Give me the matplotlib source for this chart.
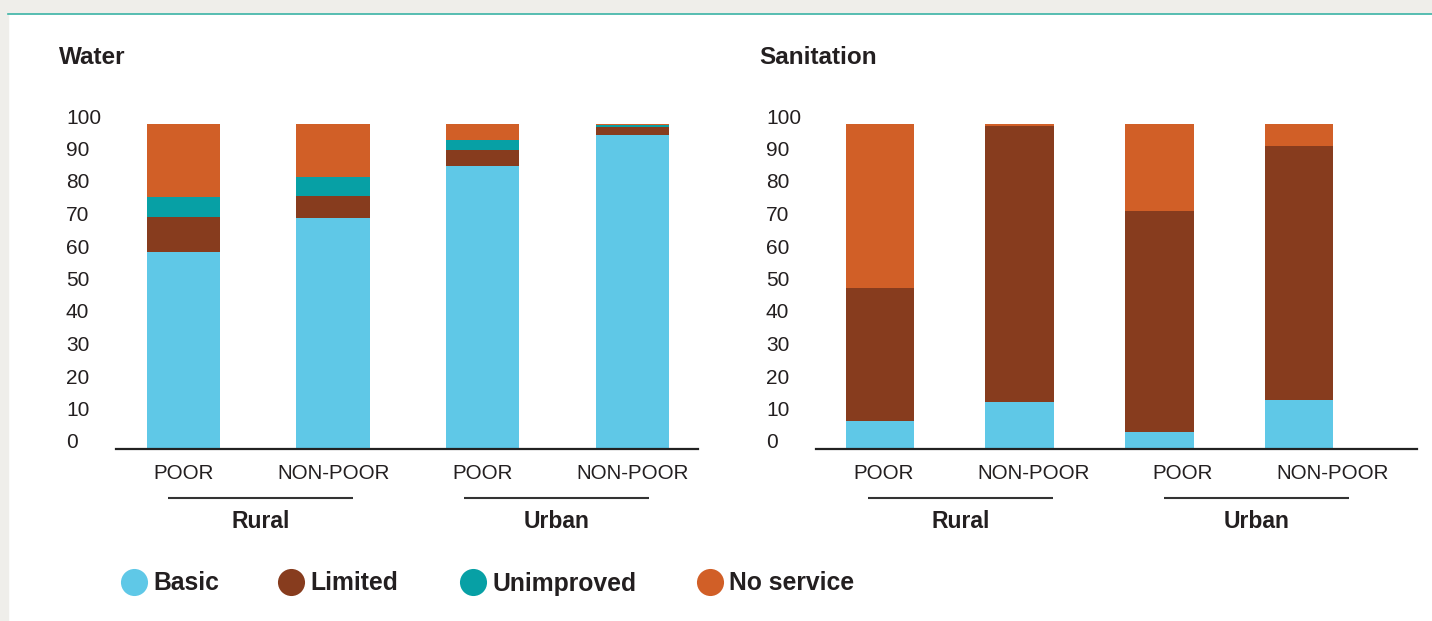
import matplotlib
matplotlib.use("Agg")
import matplotlib.pyplot as plt
from matplotlib.lines import Line2D
from matplotlib.patches import Rectangle
from matplotlib import transforms

plt.rcParams['font.family'] = ['Liberation Sans', 'DejaVu Sans']

# ---- data ----
categories = ["POOR", "NON-POOR", "POOR", "NON-POOR"]
groups = ["Rural", "Urban"]
series = ["Basic", "Limited", "Unimproved", "No service"]
colors = ["#5fc8e7", "#873c1e", "#07a0a5", "#d15f27"]

water_basic = [60.5, 71.0, 87.0, 96.6]
water_limited = [11.0, 6.7, 5.0, 2.6]
water_unimproved = [6.0, 6.0, 3.0, 0.4]
water_noservice = [22.5, 16.3, 5.0, 0.4]

san_basic = [8.6, 14.5, 5.2, 15.2]
san_limited = [41.0, 84.9, 68.0, 78.0]
san_unimproved = [0.0, 0.0, 0.0, 0.0]
san_noservice = [50.4, 0.6, 26.8, 6.8]

yticks = [0, 10, 20, 30, 40, 50, 60, 70, 80, 90, 100]

W, H = 1432, 621
fig = plt.figure(figsize=(W / 100, H / 100), dpi=100)
fig.patch.set_facecolor("white")
TXT = "#231f20"

# page background frame
fig.add_artist(Rectangle((0, 0), 8 / W, 1, transform=fig.transFigure, color="#efeeea", zorder=0))
fig.add_artist(Rectangle((0, 1 - 13 / H), 1, 13 / H, transform=fig.transFigure, color="#efeeea", zorder=0))
fig.add_artist(Line2D([8 / W, 1], [1 - 13.5 / H, 1 - 13.5 / H], transform=fig.transFigure,
                      color="#3cb4a6", lw=1.2, zorder=1))


def fx(px):
    return px / W


def fy(py):
    return 1 - py / H


def panel(title, left_px, right_px, label_left_px, title_x, data, xlim):
    top_px, bot_px = 124, 449
    ax = fig.add_axes([fx(left_px), fy(bot_px), fx(right_px - left_px), (bot_px - top_px) / H])
    x = list(range(len(categories)))
    bottom = [0.0] * len(categories)
    for vals, c, name in zip(data, colors, series):
        ax.bar(x, vals, width=0.49, bottom=bottom, color=c, label=name, linewidth=0)
        bottom = [b + v for b, v in zip(bottom, vals)]
    ax.set_ylim(0, 100)
    ax.set_xlim(*xlim)
    for s in ["top", "right", "left"]:
        ax.spines[s].set_visible(False)
    ax.spines["bottom"].set_color("#222222")
    ax.spines["bottom"].set_linewidth(1.6)
    ax.set_xticks([])
    ax.set_yticks([])

    # y tick labels (left aligned, shifted up)
    tr = transforms.blended_transform_factory(fig.transFigure, ax.transData)
    off = transforms.ScaledTranslation(0, 6.0 / 100, fig.dpi_scale_trans)
    for t in yticks:
        fig.text(fx(label_left_px), t, str(t), transform=tr + off, ha="left", va="center",
                 fontsize=15, color=TXT)

    # title
    fig.text(fx(title_x), fy(57.5), title, fontsize=17.5, fontweight="bold", color=TXT,
             ha="left", va="center")

    # category / group labels on a helper axis with water spacing
    lab = fig.add_axes([fx(left_px), fy(540), fx(582), 90 / H])
    lab.set_xlim(-0.451, 3.438)
    lab.set_ylim(540, 450)
    lab.axis("off")
    for i, c in enumerate(categories):
        lab.text(i, 473.5, c, ha="center", va="center", fontsize=14.8, color=TXT)
    for g, (a, b) in zip(groups, [(-0.104, 1.133), (1.874, 3.11)]):
        lab.plot([a, b], [498, 498], color="#333333", lw=1.5, solid_capstyle="butt")
        lab.text((a + b) / 2, 522, g, ha="center", va="center", fontsize=16.5,
                 fontweight="bold", color=TXT)
    return ax


panel("Water", 116, 698, 66, 59,
      [water_basic, water_limited, water_unimproved, water_noservice], (-0.451, 3.438))
panel("Sanitation", 816, 1417, 766, 759,
      [san_basic, san_limited, san_unimproved, san_noservice], (-0.458, 3.844))

# legend
leg_x = [134, 291, 473, 710]
for name, c, px in zip(series, colors, leg_x):
    fig.add_artist(Line2D([fx(px)], [fy(582)], transform=fig.transFigure, marker="o",
                          markersize=19.5, color=c, markeredgewidth=0, linestyle="none"))
    fig.text(fx(px + 19), fy(590.5), name, ha="left", va="baseline", fontsize=17.8,
             fontweight="bold", color=TXT)

fig.savefig("out.png", dpi=100, facecolor=fig.get_facecolor())
